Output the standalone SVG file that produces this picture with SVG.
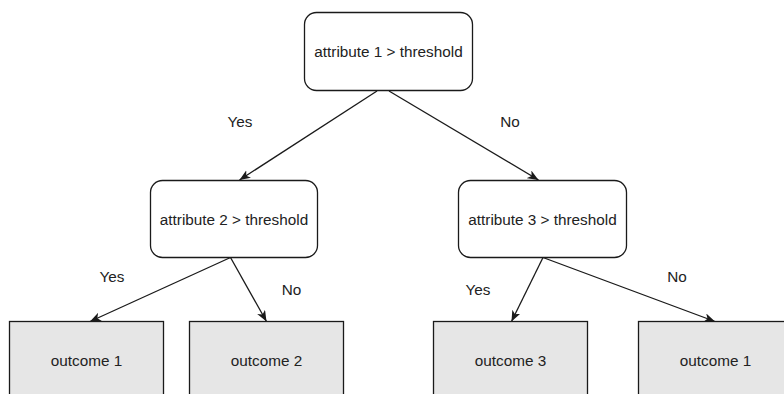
<svg xmlns="http://www.w3.org/2000/svg" width="784" height="394" viewBox="0 0 784 394">
<style>
  .dec { fill: #ffffff; stroke: #1a1a1a; stroke-width: 1.3; }
  .out { fill: #e6e6e6; stroke: #1a1a1a; stroke-width: 1.3; }
  .lbl { font-family: "Liberation Sans", Arial, sans-serif; font-size: 15.3px; fill: #222222; text-anchor: middle; }
  .edge { fill: none; stroke: #1a1a1a; stroke-width: 1.3; marker-end: url(#arrow); }
</style>
<defs>
  <marker id="arrow" markerUnits="userSpaceOnUse" markerWidth="12" markerHeight="10" refX="11" refY="4.5" orient="auto">
    <path d="M0,0 L11,4.5 L0,9 L3,4.5 z" fill="#1a1a1a"/>
  </marker>
</defs>
<rect width="784" height="394" fill="#ffffff"/>
<g id="connectors">
  <line class="edge" x1="377" y1="91" x2="239.5" y2="180"/>
  <line class="edge" x1="389" y1="91" x2="538.5" y2="180"/>
  <line class="edge" x1="230.5" y1="257.5" x2="90" y2="321.5"/>
  <line class="edge" x1="230.5" y1="257.5" x2="266.5" y2="321.5"/>
  <line class="edge" x1="543" y1="257.5" x2="511.5" y2="321.5"/>
  <line class="edge" x1="543" y1="257.5" x2="715" y2="321.5"/>
  <text class="lbl" x="240" y="127">Yes</text>
  <text class="lbl" x="510" y="127">No</text>
  <text class="lbl" x="112" y="282">Yes</text>
  <text class="lbl" x="291.5" y="295">No</text>
  <text class="lbl" x="478" y="295">Yes</text>
  <text class="lbl" x="677" y="282">No</text>
</g>
<g id="node-attr1">
  <rect class="dec" x="304.5" y="12.5" width="168" height="78" rx="12" ry="12"/>
  <text class="lbl" x="388.5" y="57">attribute 1 &gt; threshold</text>
</g>
<g id="node-attr2">
  <rect class="dec" x="150.5" y="180.5" width="167" height="77" rx="12" ry="12"/>
  <text class="lbl" x="234" y="224.5">attribute 2 &gt; threshold</text>
</g>
<g id="node-attr3">
  <rect class="dec" x="458.5" y="180.5" width="168" height="77" rx="12" ry="12"/>
  <text class="lbl" x="542.5" y="224.5">attribute 3 &gt; threshold</text>
</g>
<g id="node-outcome1a">
  <rect class="out" x="9.5" y="321.5" width="154" height="77"/>
  <text class="lbl" x="86.5" y="365.5">outcome 1</text>
</g>
<g id="node-outcome2">
  <rect class="out" x="189.5" y="321.5" width="154" height="77"/>
  <text class="lbl" x="266.5" y="365.5">outcome 2</text>
</g>
<g id="node-outcome3">
  <rect class="out" x="433.5" y="321.5" width="154" height="77"/>
  <text class="lbl" x="510.5" y="365.5">outcome 3</text>
</g>
<g id="node-outcome1b">
  <rect class="out" x="638.5" y="321.5" width="154" height="77"/>
  <text class="lbl" x="715.5" y="365.5">outcome 1</text>
</g>
</svg>
